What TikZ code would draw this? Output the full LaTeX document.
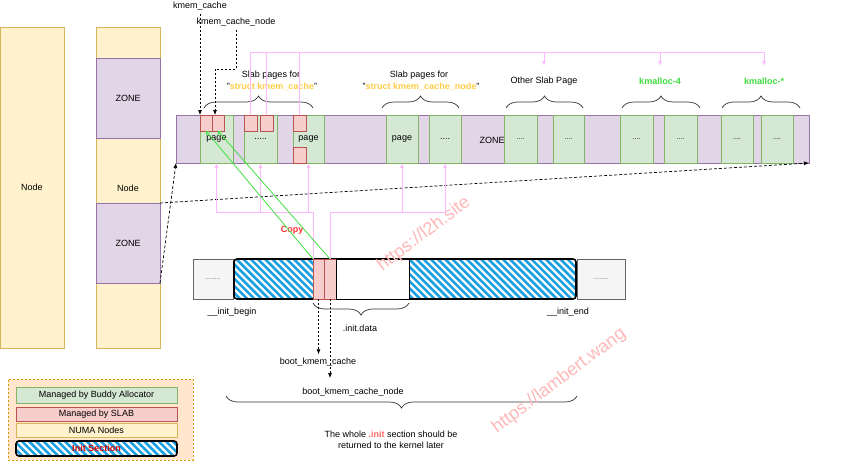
\documentclass[tikz,border=0pt]{standalone}
\usepackage{fontspec}
\setmainfont{Liberation Sans}
\usetikzlibrary{arrows.meta,decorations.pathreplacing,calc}
\definecolor{greenF}{HTML}{D5E8D4}\definecolor{greenS}{HTML}{82B366}
\definecolor{redF}{HTML}{F8CECC}\definecolor{redS}{HTML}{B85450}
\definecolor{yelF}{HTML}{FFF2CC}\definecolor{yelS}{HTML}{D6B656}
\definecolor{purF}{HTML}{E1D5E7}\definecolor{purS}{HTML}{9673A6}
\definecolor{grayF}{HTML}{F5F5F5}\definecolor{grayS}{HTML}{666666}
\definecolor{orF}{HTML}{FFE6CC}\definecolor{orS}{HTML}{D79B00}
\definecolor{pinkL}{HTML}{FFB8FF}
\definecolor{copyG}{HTML}{40E040}
\definecolor{structY}{HTML}{FFCC44}
\definecolor{kmG}{HTML}{3CDC3C}
\definecolor{hatchB}{HTML}{1BA1E2}
\definecolor{copyR}{HTML}{FF3333}
\definecolor{initR}{HTML}{FF6666}
\definecolor{secR}{HTML}{DD0000}
\definecolor{wmR}{HTML}{FFB8B8}
\tikzset{
 every node/.style={font=\fontsize{9}{11}\selectfont},
 base/.style={draw, inner sep=0pt, outer sep=0pt, line width=0.8pt},
 gbox/.style={base, fill=greenF, draw=greenS},
 rbox/.style={base, fill=redF, draw=redS},
 ybox/.style={base, fill=yelF, draw=yelS},
 pbox/.style={base, fill=purF, draw=purS},
 graybox/.style={base, fill=grayF, draw=grayS, text=grayS, font=\fontsize{7}{8}\selectfont},
 wbox/.style={base, fill=white, draw=black},
 hatchbox/.style={base, draw=black, line width=1.6pt, rounded corners=3pt},
 legbox/.style={base, fill=orF, draw=orS, dash pattern=on 2pt off 2pt},
 smalldots/.style={font=\fontsize{7}{8}\selectfont},
 dasharrow/.style={draw=black, dash pattern=on 2pt off 2pt, line width=0.7pt, -{Latex[length=5pt,width=4pt]}},
 zonearrow/.style={draw=black, dash pattern=on 3pt off 2pt, line width=0.7pt, -{Latex[length=5pt,width=4pt]}},
 pinkline/.style={draw=pinkL, line width=0.9pt},
 pinkarrow/.style={pinkline, -{Latex[length=5pt,width=4pt]}},
 copyline/.style={draw=copyG, line width=0.8pt, -{Straight Barb[length=3pt,width=5pt]}},
 bracedeco/.style={draw=black!80, line width=0.7pt, decorate, decoration={brace, amplitude=12pt}},
 wmark/.style={rotate=37, text=wmR, font=\fontsize{18}{18}\selectfont},
}
\newcommand\bx[7]{\node[#2, minimum width={(#5-#3)*1pt}, minimum height={(#6-#4)*1pt}] (#1) at ({(#3+#5)/2},{(#4+#6)/2}) {#7};}
\newcommand\hatchrect[5]{%
 \begin{scope}
 \clip[rounded corners=3pt] (#1,#2) rectangle (#3,#4);
 \fill[white] (#1,#2) rectangle (#3,#4);
 \pgfmathsetmacro\hs{#1-#5-4}\pgfmathsetmacro\hn{#1-#5+3.2}
 \foreach \hx in {\hs,\hn,...,#3} \draw[hatchB, line width=2.6pt] (\hx,#2-3) -- ++(#5+6,#5+6);
 \end{scope}}
\begin{document}
\begin{tikzpicture}[x=1pt,y=-1pt]
\useasboundingbox (0,0) rectangle (851,469);
% NUMA node columns
\bx{node1}{ybox}{0}{27}{64}{348}{Node}
\bx{node2}{ybox}{96}{27}{160}{348}{}
\bx{zone1}{pbox}{96}{58}{160}{138}{ZONE}
\bx{zone2}{pbox}{96}{203}{160}{283}{ZONE}
\node (nodelbl) at (128,188) {Node};
% zone strip
\bx{strip}{pbox}{176}{115}{809}{163}{}
\bx{p1}{gbox}{200}{115}{233}{163}{page}
\bx{p2}{gbox}{244}{115}{277}{163}{.....}
\bx{p3}{gbox}{293}{115}{324}{163}{page}
\bx{p4}{gbox}{386}{115}{418}{163}{page}
\bx{p5}{gbox}{429}{115}{461}{163}{....}
\node (zonelbl) at (492,140) {ZONE};
\bx{p6}{gbox,smalldots}{504}{115}{537}{163}{....}
\bx{p7}{gbox,smalldots}{553}{115}{584}{163}{....}
\bx{p8}{gbox,smalldots}{620}{115}{653}{163}{....}
\bx{p9}{gbox,smalldots}{664}{115}{697}{163}{....}
\bx{p10}{gbox,smalldots}{721}{115}{753}{163}{....}
\bx{p11}{gbox,smalldots}{761}{115}{793}{163}{....}
\bx{r1}{rbox}{200}{115}{212}{131}{}
\bx{r2}{rbox}{212}{115}{224}{131}{}
\bx{r3}{rbox}{244}{115}{257}{131}{}
\bx{r4}{rbox}{260}{115}{273}{131}{}
\bx{r5}{rbox}{293}{115}{306}{131}{}
\bx{r6}{rbox}{293}{147}{306}{163}{}
% top labels
\node (kmc) at (200,6) {kmem\_cache};
\node (kmcn) at (236,22) {kmem\_cache\_node};
\node (slab1) at (271,75) {Slab pages for};
\node (st1) at (272,87) {"\textcolor{structY}{\textbf{struct kmem\_cache}}"};
\node (slab2) at (419,75) {Slab pages for};
\node (st2) at (421,87) {"\textcolor{structY}{\textbf{struct kmem\_cache\_node}}"};
\node (osp) at (544,81) {Other Slab Page};
\node (km4) at (660,81) {\textcolor{kmG}{\textbf{kmalloc-4}}};
\node (kms) at (764,81) {\textcolor{kmG}{\textbf{kmalloc-*}}};
\draw[bracedeco] (204,108) -- (313,108);
\draw[bracedeco] (382,108) -- (459,108);
\draw[bracedeco] (506,108) -- (583,108);
\draw[bracedeco] (622,108) -- (700,108);
\draw[bracedeco] (722,108) -- (800,108);
% init section
\bx{g1}{graybox}{193}{259}{233}{299}{........}
\hatchrect{234}{259}{576}{299}{40}
\bx{init}{hatchbox}{234}{259}{576}{299}{}
\bx{ir1}{rbox}{313}{259}{324}{299}{}
\bx{ir2}{rbox}{324}{259}{336}{299}{}
\bx{wb}{wbox}{336}{259}{409}{299}{}
\bx{g2}{graybox}{577}{259}{625}{299}{........}
\node (ib) at (232,312) {\_\_init\_begin};
\node (ie) at (568,312) {\_\_init\_end};
\draw[bracedeco] (409,303) -- (313,303);
\node (idata) at (360,328) {.init.data};
\node (bkc) at (318,362) {boot\_kmem\_cache};
\node (bkcn) at (353,392) {boot\_kmem\_cache\_node};
\draw[bracedeco] (577,396) -- (226,396);
\node[align=center] (whole) at (391,440) {The whole \textcolor{initR}{\textbf{.init}} section should be\\returned to the kernel later};
\node (copy) at (292,230) {\textcolor{copyR}{\textbf{Copy}}};
% legend
\bx{legend}{legbox}{8}{379}{193}{460}{}
\bx{l1}{gbox}{16}{387}{177}{403}{Managed by Buddy Allocator}
\bx{l2}{rbox}{16}{407}{177}{421}{Managed by SLAB}
\bx{l3}{ybox}{16}{423}{177}{437}{NUMA Nodes}
\hatchrect{16}{441}{177}{456}{15}
\bx{l4}{hatchbox}{16}{441}{177}{456}{\textcolor{secR}{\textbf{Init Section}}}
% watermarks
\node[wmark] (wm1) at (424,234) {https://l2h.site};
\node[wmark] (wm2) at (559,381) {https://lambert.wang};
% connectors
\draw[dasharrow] (kmc.south) -- (kmc.south |- r1.north);
\coordinate (kbend) at (215,69);
\draw[dasharrow] (kmcn.south) |- (kbend) -- (kbend |- r2.north);
\draw[zonearrow] (zone2.south east) -- (strip.south west);
\draw[zonearrow] (zone2.north east) -- (strip.south east);
\coordinate (ty) at (0,52);
\draw[pinkline] (r3.north) -- (r3.north |- ty) -- (kms.north |- ty);
\draw[pinkline] (r4.north) -- (r4.north |- ty);
\draw[pinkline] (r5.north) -- (r5.north |- ty);
\draw[pinkarrow] (osp.north |- ty) -- ++(0,14);
\draw[pinkarrow] (km4.north |- ty) -- ++(0,14);
\draw[pinkarrow] (kms.north |- ty) -- ++(0,14);
\coordinate (by) at (0,212);
\draw[pinkarrow] (ir1.north west) |- (p1.south |- by) -- (p1.south);
\draw[pinkarrow] (p2.south |- by) -- (p2.south);
\draw[pinkarrow] (p3.south |- by) -- (p3.south);
\draw[pinkarrow] (ir2.north) |- (p5.south |- by) -- (p5.south);
\draw[pinkarrow] (p4.south |- by) -- (p4.south);
\draw[copyline] (ir1.north west) -- (r1.south);
\draw[copyline] (ir2.north) -- (r2.south);
\draw[dasharrow] (ir1.south) -- (ir1.south |- bkc.north);
\coordinate (bk2) at (330,378);
\draw[dasharrow] (ir2.south) -- (ir2.south |- bk2);
\end{tikzpicture}
\end{document}
